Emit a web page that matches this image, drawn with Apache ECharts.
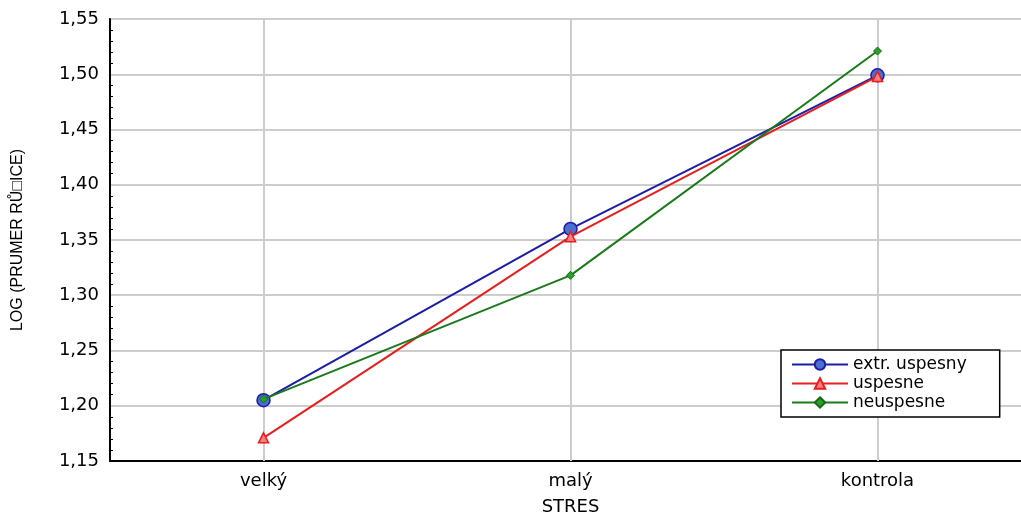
<!DOCTYPE html>
<html>
<head>
<meta charset="utf-8">
<script src="https://cdn.jsdelivr.net/npm/echarts@6/dist/echarts.min.js"></script>
<style>html,body{margin:0;padding:0;background:#fff}#c{width:1021px;height:515px}</style>
</head>
<body>
<div id="c"></div>
<script>
var categories = ['velký', 'malý', 'kontrola'];
var extrUspesny = [1.205, 1.360, 1.499];
var uspesne = [1.171, 1.353, 1.498];
var neuspesne = [1.206, 1.318, 1.521];
var yMin = 1.15, yMax = 1.55, yInterval = 0.05;

var chart = echarts.init(document.getElementById('c'));
var font = 'DejaVu Sans, Liberation Sans, sans-serif';
chart.setOption({
  animation: false,
  textStyle: { fontFamily: font },
  grid: { left: 110, top: 19, width: 921, height: 442, outerBoundsMode: 'none', containLabel: false, show: true, borderColor: '#000', borderWidth: 1.5, backgroundColor: 'transparent' },
  legend: {
    orient: 'vertical', left: 781, top: 350,
    backgroundColor: '#fff', borderColor: '#000', borderWidth: 1.5,
    padding: [6, 33, 6, 10], itemGap: 2, itemWidth: 56, itemHeight: 13,
    textStyle: { fontSize: 17, color: '#000', fontFamily: font },
    data: ['extr. uspesny', 'uspesne', 'neuspesne']
  },
  xAxis: {
    type: 'category', data: categories, boundaryGap: true,
    name: 'STRES', nameLocation: 'middle', nameGap: 37,
    nameTextStyle: { fontSize: 18, color: '#000' },
    axisLine: { lineStyle: { color: '#000', width: 2 } },
    axisTick: { inside: true, alignWithLabel: true, length: 6, lineStyle: { color: '#000' } },
    axisLabel: { fontSize: 18, color: '#000', margin: 11 },
    splitLine: { show: false }
  },
  yAxis: {
    type: 'value', min: yMin, max: yMax, interval: yInterval,
    name: 'LOG (PRUMER RŮ\u25A1ICE)', nameLocation: 'middle', nameGap: 84,
    nameTextStyle: { fontSize: 16, color: '#000', fontFamily: 'Liberation Sans, Arial, sans-serif' },
    axisLine: { show: true, lineStyle: { color: '#000', width: 2 } },
    axisTick: { inside: true, length: 6, lineStyle: { color: '#000' } },
    minorTick: { show: true, splitNumber: 5, length: 3, lineStyle: { color: '#000' } },
    axisLabel: { fontSize: 18, color: '#000', margin: 11, formatter: function (v) { return v.toFixed(2).replace('.', ','); } },
    splitLine: { show: true, lineStyle: { color: '#cdcdcd', width: 2 } }
  },
  series: [
    {
      name: 'extr. uspesny', type: 'line', data: extrUspesny, z: 4,
      symbol: 'circle', symbolSize: 13,
      lineStyle: { color: '#1c1ca8', width: 2 },
      itemStyle: { color: '#4b6fcf', borderColor: '#1c1ca8', borderWidth: 1.5 },
      markLine: {
        silent: true, symbol: 'none', label: { show: false },
        lineStyle: { color: '#cdcdcd', width: 2, type: 'solid' },
        data: categories.map(function (c) { return { xAxis: c }; }),
        z: 1
      }
    },
    {
      name: 'uspesne', type: 'line', data: uspesne, z: 5,
      symbol: 'triangle', symbolSize: 10,
      lineStyle: { color: '#e61e1e', width: 2 },
      itemStyle: { color: '#ff8080', borderColor: '#e61e1e', borderWidth: 1.5 }
    },
    {
      name: 'neuspesne', type: 'line', data: neuspesne, z: 6,
      symbol: 'diamond', symbolSize: 8,
      lineStyle: { color: '#1a7a1a', width: 2 },
      itemStyle: { color: '#2aa02a', borderColor: '#146a14', borderWidth: 1 }
    }
  ]
});
</script>
</body>
</html>
